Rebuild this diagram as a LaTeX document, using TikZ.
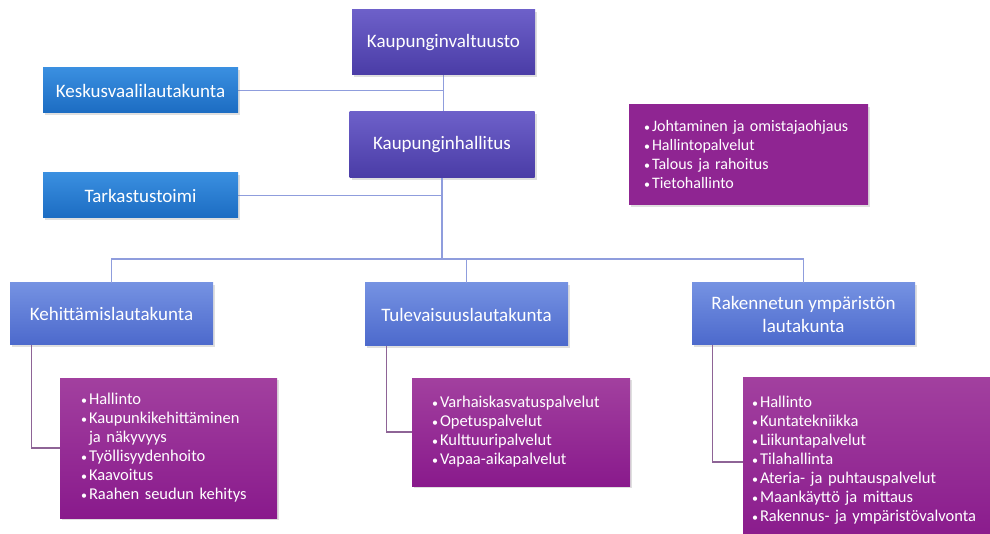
\documentclass[tikz,border=0pt]{standalone}
\usepackage{fontspec}
\setmainfont{Carlito}
\usetikzlibrary{shadows}

\definecolor{ylinYla}{HTML}{6D60C9}
\definecolor{ylinAla}{HTML}{4A3CA6}
\definecolor{erilYla}{HTML}{3A8FE0}
\definecolor{erilAla}{HTML}{1C6CC2}
\definecolor{lautYla}{HTML}{7592E2}
\definecolor{lautAla}{HTML}{4C69CC}
\definecolor{listYla}{HTML}{A2409F}
\definecolor{listAla}{HTML}{891A8C}
\definecolor{linjaSin}{HTML}{8F9DDD}
\definecolor{linjaVio}{HTML}{8E6496}

\newcommand{\pallo}{\makebox[8pt][l]{\fontsize{12}{12}\selectfont•}}

\begin{document}
\begin{tikzpicture}[x=1pt,y=-1pt,
  laatikko/.style={text=white, align=center, inner sep=0pt,
    drop shadow={opacity=0.25,shadow xshift=2pt,shadow yshift=-2pt}},
  ylin/.style={laatikko, font=\fontsize{19}{23}\selectfont,
    top color=ylinYla, bottom color=ylinAla},
  eril/.style={laatikko, font=\fontsize{19}{23}\selectfont,
    top color=erilYla, bottom color=erilAla},
  laut/.style={laatikko, font=\fontsize{19}{23}\selectfont,
    top color=lautYla, bottom color=lautAla},
  lista/.style={laatikko, align=left, inner ysep=0pt,
    font=\fontsize{16.5}{19}\selectfont,
    top color=listYla, bottom color=listAla},
  sininen/.style={draw=linjaSin, line width=1.3pt},
  violetti/.style={draw=linjaVio, line width=1.3pt}]
\useasboundingbox (0,0) rectangle (990,534);
\clip (0,0) rectangle (990,534);

% yhteydet
\coordinate (vayla) at (0,259);
\draw[sininen] (443.5,75) -- (443.5,112);
\draw[sininen] (238,90.5) -- (443.5,90.5);
\draw[sininen] (238,195.5) -- (442,195.5);

% ylin taso
\node (valt) at (443.5,42.5) [ylin, minimum width=183pt, minimum height=65pt] {Kaupunginvaltuusto};
\node (hall) at (442,145) [ylin, minimum width=185pt, minimum height=66pt] {Kaupunginhallitus};
\node (kesk) at (140.5,90.5) [eril, minimum width=195pt, minimum height=45pt] {Keskusvaalilautakunta};
\node (tark) at (140.5,195.5) [eril, minimum width=195pt, minimum height=45pt] {Tarkastustoimi};
\node (kons) at (748.5,155) [lista, top color=listAla!95!white, bottom color=listAla!95!white,
  font=\fontsize{16}{19}\selectfont, inner xsep=15pt, text width=209pt, minimum height=100pt]
  {\pallo Johtaminen ja omistajaohjaus\\ \pallo Hallintopalvelut\\ \pallo Talous ja rahoitus\\ \pallo Tietohallinto};

% lautakunnat
\node (keh) at (111.5,314) [laut, minimum width=203pt, minimum height=62pt] {Kehittämislautakunta};
\node (tul) at (466.5,314.5) [laut, minimum width=203pt, minimum height=63pt] {Tulevaisuuslautakunta};
\node (rak) at (803.5,314) [laut, minimum width=223pt, minimum height=62pt] {Rakennetun ympäristön\\ lautakunta};

% palvelut
\node (keh palv) at (168.5,448) [lista, inner xsep=21pt, text width=175pt, minimum height=140pt]
  {\pallo Hallinto\\ \pallo Kaupunkikehittäminen\\ \hspace{8pt}ja näkyvyys\\ \pallo Työllisyydenhoito\\ \pallo Kaavoitus\\ \pallo Raahen seudun kehitys};
\node (tul palv) at (521,432) [lista, inner xsep=20pt, text width=178pt, minimum height=108pt]
  {\pallo Varhaiskasvatuspalvelut\\ \pallo Opetuspalvelut\\ \pallo Kulttuuripalvelut\\ \pallo Vapaa-aikapalvelut};
\node (rak palv) at (871.5,460) [lista, inner xsep=9pt, text width=239pt, minimum height=166pt]
  {\pallo Hallinto\\ \pallo Kuntatekniikka\\ \pallo Liikuntapalvelut\\ \pallo Tilahallinta\\ \pallo Ateria- ja puhtauspalvelut\\ \pallo Maankäyttö ja mittaus\\ \pallo Rakennus- ja ympäristövalvonta};

% haarat
\draw[sininen] (hall.south) -- (hall.south |- vayla);
\draw[sininen] (keh.north) |- (vayla -| rak.north) -- (rak.north);
\draw[sininen] (tul.north) -- (tul.north |- vayla);
\draw[violetti] ([xshift=22pt]keh.south west) |- (keh palv.west);
\draw[violetti] ([xshift=22pt]tul.south west) |- (tul palv.west);
\draw[violetti] ([xshift=21pt]rak.south west) |- ([yshift=-2pt]rak palv.west);
\end{tikzpicture}
\end{document}
